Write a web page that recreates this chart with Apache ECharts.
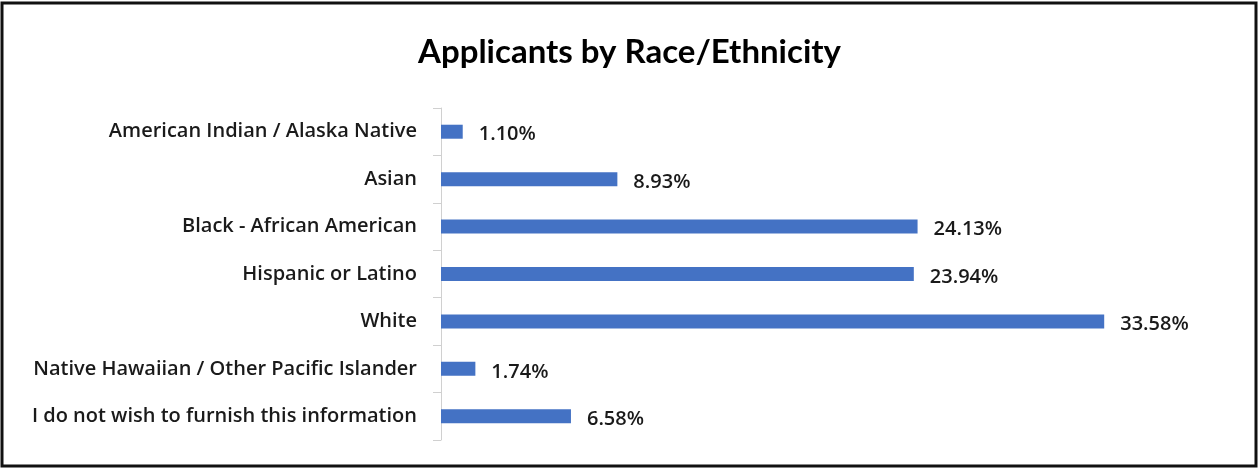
<!DOCTYPE html>
<html>
<head>
<meta charset="utf-8">
<script src="https://cdn.jsdelivr.net/npm/echarts@6/dist/echarts.min.js"></script>
<style>
  html, body { margin: 0; padding: 0; background: #fff; }
  #chart { width: 1259px; height: 470px; }
</style>
</head>
<body>
<div id="chart"></div>
<script>
// Applicant share by race/ethnicity (percent)
const categories = [
  'American Indian / Alaska Native',
  'Asian',
  'Black - African American',
  'Hispanic or Latino',
  'White',
  'Native Hawaiian / Other Pacific Islander',
  'I do not wish to furnish this information'
];
const shares = [1.10, 8.93, 24.13, 23.94, 33.58, 1.74, 6.58];

const chart = echarts.init(document.getElementById('chart'));
chart.setOption({
  animation: false,
  backgroundColor: '#fff',
  title: {
    text: 'Applicants by Race/Ethnicity',
    left: 'center',
    top: 31,
    textStyle: { fontFamily: 'Lato', fontWeight: 'bold', fontSize: 33, color: '#000' }
  },
  graphic: [{
    type: 'rect',
    shape: { x: 2, y: 3, width: 1254, height: 463 },
    style: { fill: 'none', stroke: '#111', lineWidth: 3 }
  }],
  grid: { left: 441, right: 28, top: 108, bottom: 30, containLabel: false },
  xAxis: {
    type: 'value',
    min: 0,
    max: 40,
    show: false
  },
  yAxis: {
    type: 'category',
    inverse: true,
    data: categories,
    axisLine: { show: true, lineStyle: { color: '#d0d0d0', width: 1 } },
    axisTick: { show: true, length: 8, lineStyle: { color: '#d0d0d0' } },
    axisLabel: {
      margin: 24,
      fontFamily: 'Open Sans',
      fontWeight: 600,
      fontSize: 20,
      color: '#1a1a1a'
    }
  },
  series: [{
    type: 'bar',
    data: shares,
    barWidth: 14,
    itemStyle: { color: '#4472C4' },
    label: {
      show: true,
      position: 'right',
      distance: 16,
      offset: [0, 3],
      formatter: p => p.value.toFixed(2) + '%',
      fontFamily: 'Open Sans',
      fontWeight: 600,
      fontSize: 20,
      color: '#1a1a1a'
    }
  }]
});
</script>
</body>
</html>
